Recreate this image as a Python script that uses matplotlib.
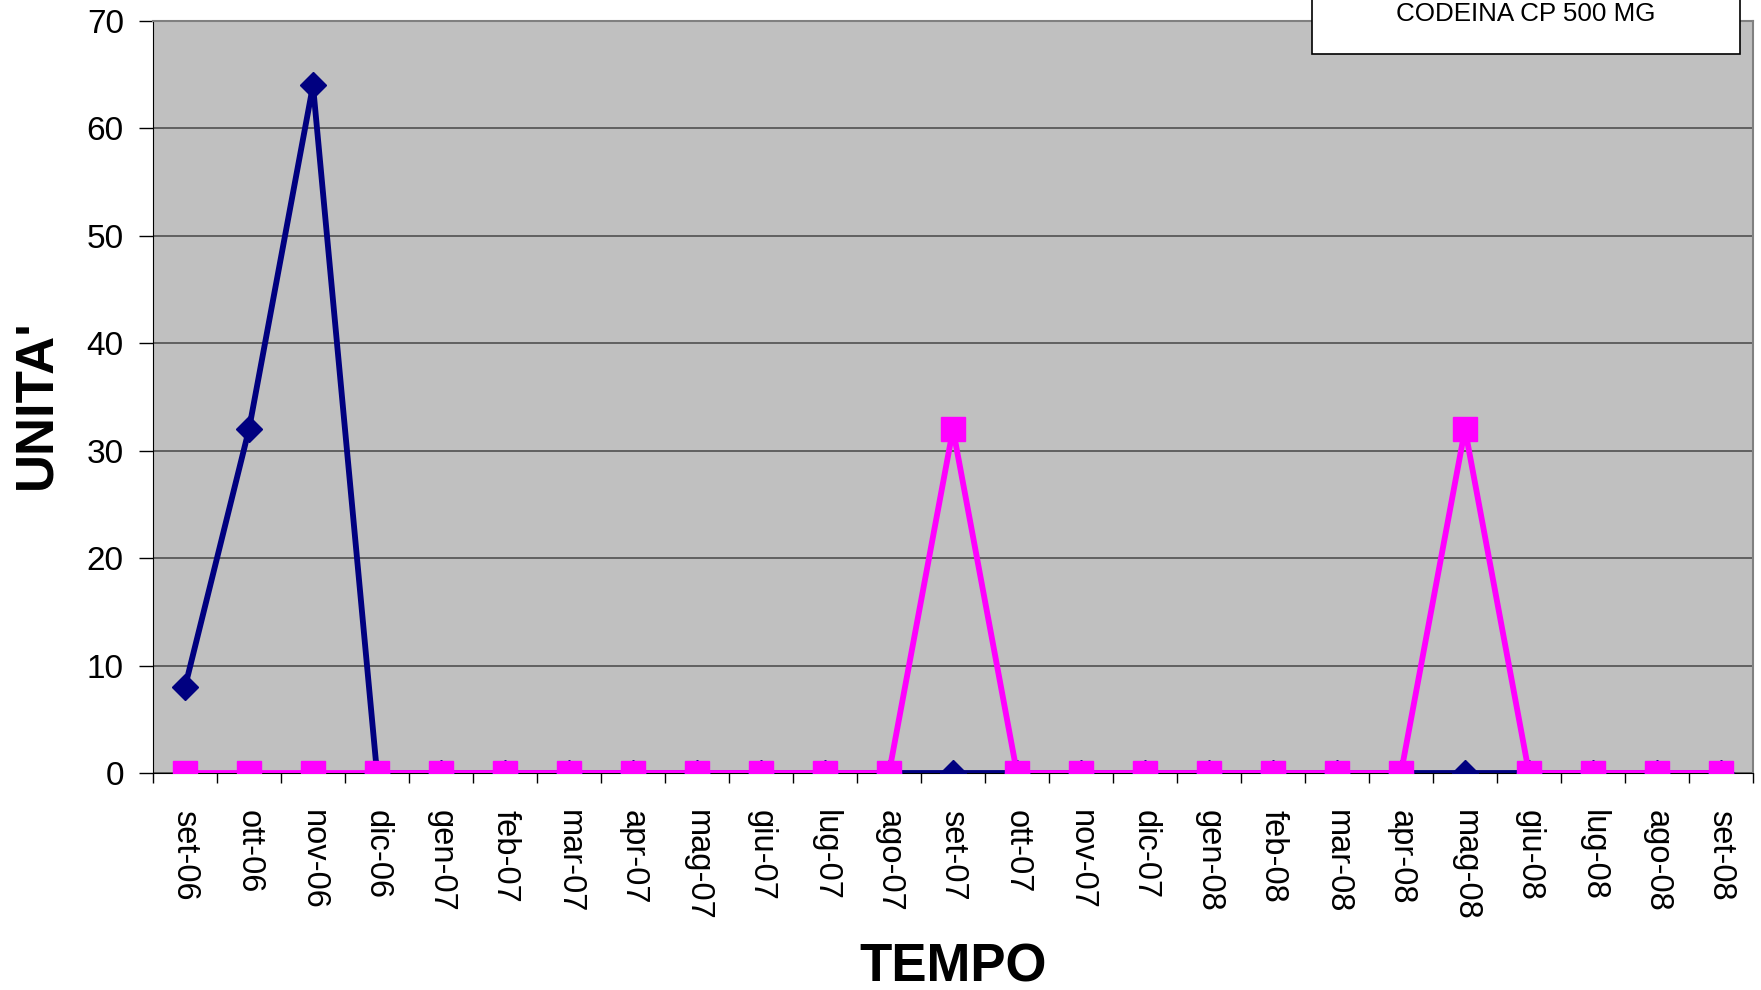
import matplotlib
matplotlib.use("Agg")
import matplotlib.pyplot as plt
import numpy as np
from matplotlib.patches import Rectangle

plt.rcParams["font.family"] = ["Liberation Sans", "DejaVu Sans"]

# dati
mesi = ["set-06", "ott-06", "nov-06", "dic-06", "gen-07", "feb-07", "mar-07",
        "apr-07", "mag-07", "giu-07", "lug-07", "ago-07", "set-07", "ott-07",
        "nov-07", "dic-07", "gen-08", "feb-08", "mar-08", "apr-08", "mag-08",
        "giu-08", "lug-08", "ago-08", "set-08"]
serie_blu = [8, 32, 64, 0, 0, 0, 0, 0, 0, 0, 0, 0, 0, 0, 0, 0, 0, 0, 0, 0, 0, 0, 0, 0, 0]
serie_rosa = [0, 0, 0, 0, 0, 0, 0, 0, 0, 0, 0, 0, 32, 0, 0, 0, 0, 0, 0, 0, 32, 0, 0, 0, 0]
legenda = "CODEINA CP 500 MG"

fig = plt.figure(figsize=(17.61, 9.90), dpi=100)
ax = fig.add_axes([153 / 1761, 1 - 773 / 990, 1600 / 1761, 752 / 990])
ax.set_facecolor("#C0C0C0")

x = np.arange(len(mesi))
ax.plot(x, serie_blu, color="#000080", lw=4.2, marker="D", ms=13, zorder=3)
ax.plot(x, serie_rosa, color="#FF00FF", lw=4.2, marker="s", ms=17, zorder=4)

ax.set_xlim(-0.5, len(mesi) - 0.5)
ax.set_ylim(0, 70)
ax.set_yticks(range(0, 71, 10))
ax.yaxis.grid(True, color="#505050", lw=1.2)
ax.set_axisbelow(True)

ax.set_xticks(x)
ax.set_xticklabels(mesi, rotation=-90, fontsize=23.5)
ax.set_xticks(np.arange(-0.5, len(mesi)), minor=True)
ax.tick_params(axis="x", which="major", length=0, pad=27)
ax.tick_params(axis="x", which="minor", length=7, width=1, direction="out")
ax.tick_params(axis="y", labelsize=24, length=10, width=1, pad=11)

for s in ["top", "right"]:
    ax.spines[s].set_color("#808080")
    ax.spines[s].set_linewidth(1.5)
for s in ["left", "bottom"]:
    ax.spines[s].set_color("black")

fig.text(36 / 1761, 1 - 404 / 990, "UNITA'", rotation=90, fontsize=38,
         fontweight="bold", ha="center", va="center")
fig.text(953 / 1761, 1 - 968 / 990, "TEMPO", fontsize=38,
         fontweight="bold", ha="center", va="center")

# riquadro legenda (tagliato in alto)
fig.patches.append(Rectangle((1312 / 1761, 1 - 54 / 990), 428 / 1761, 80 / 990,
                             transform=fig.transFigure, facecolor="white",
                             edgecolor="black", lw=1.2, zorder=5))
fig.text(1526 / 1761, 1 - 14 / 990, legenda, fontsize=18.7,
         ha="center", va="center", zorder=6)

fig.savefig("out.png", dpi=100)
